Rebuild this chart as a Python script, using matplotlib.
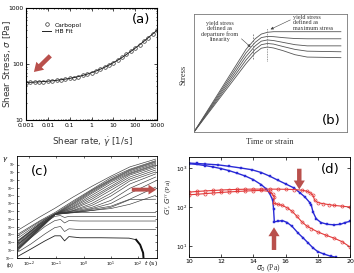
import numpy as np
import matplotlib
matplotlib.use("Agg")
import matplotlib.pyplot as plt

# ---- panel (a): Carbopol flow curve
rate = [1e-3, 1.58e-3, 2.51e-3, 3.98e-3, 6.31e-3, 1e-2, 1.58e-2, 2.51e-2, 3.98e-2, 6.31e-2,
        0.1, 0.158, 0.251, 0.398, 0.631, 1, 1.58, 2.51, 3.98, 6.31,
        10, 15.8, 25.1, 39.8, 63.1, 100, 158, 251, 398, 631, 1000]
stress = [46.5, 47.0, 47.4, 48.0, 48.6, 49.3, 50.1, 51.1, 52.3, 53.7,
          55.3, 57.3, 59.7, 62.5, 65.9, 70, 74.8, 80.6, 87.5, 95.7,
          105, 117, 131, 148, 168, 192, 220, 254, 295, 343, 400]
hb_fit = [46.8, 47.1, 47.5, 48.0, 48.6, 49.3, 50.1, 51.1, 52.3, 53.7,
          55.3, 57.3, 59.7, 62.5, 65.9, 70, 74.8, 80.6, 87.5, 95.7,
          105.5, 117, 131, 148, 168, 192, 220, 254, 295, 343, 400]
a_xticks = [1e-3, 1e-2, 1e-1, 1, 10, 100, 1000]
a_xlabels = ["0.001", "0.01", "0.1", "1", "10", "100", "1000"]
a_yticks = [10, 100, 1000]

# ---- panel (b): schematic stress vs time/strain
b_x = [0, 0.34, 0.40, 0.44, 0.48, 0.52, 0.58, 0.66, 0.74, 0.96]
b_curves = [
    [0, 0.70, 0.79, 0.83, 0.845, 0.85, 0.85, 0.85, 0.85, 0.85],
    [0, 0.67, 0.76, 0.80, 0.81, 0.808, 0.80, 0.792, 0.79, 0.79],
    [0, 0.64, 0.73, 0.77, 0.78, 0.775, 0.76, 0.74, 0.73, 0.73],
    [0, 0.61, 0.70, 0.74, 0.75, 0.745, 0.725, 0.70, 0.685, 0.68],
    [0, 0.58, 0.67, 0.71, 0.72, 0.712, 0.69, 0.655, 0.635, 0.63],
]

# ---- panel (c): creep curves, log10 t and log10 strain
c_t_up = [-2.4, -1.6, -1.05, -0.4, 0.3, 1.0, 1.7, 2.65]
c_up = [
    [-6.4, -4.7, -3.6, -2.2, -0.8, 0.5, 1.7, 2.7],
    [-6.9, -5.2, -4.15, -2.7, -1.2, 0.3, 1.4, 2.5],
    [-7.1, -5.3, -4.3, -2.85, -1.3, 0.1, 1.3, 2.4],
    [-7.4, -5.45, -4.35, -3.0, -1.4, 0.0, 1.2, 2.3],
    [-7.7, -5.6, -4.4, -3.1, -1.55, -0.1, 1.05, 2.15],
    [-7.8, -5.65, -4.4, -3.25, -1.7, -0.25, 0.9, 2.0],
    [-7.9, -5.7, -4.4, -3.4, -1.95, -0.5, 0.8, 1.9],
    [-8.05, -5.8, -4.4, -3.5, -2.2, -0.8, 0.65, 1.75],
    [-8.2, -5.85, -4.4, -3.65, -2.45, -1.0, 0.4, 1.55],
    [-8.3, -5.9, -4.4, -3.75, -2.7, -1.3, 0.15, 1.3],
    [-8.45, -5.95, -4.4, -3.9, -3.0, -1.7, -0.1, 1.05],
    [-8.55, -6.05, -4.4, -3.95, -3.25, -2.05, -0.5, 0.8],
    [-8.7, -6.1, -4.4, -4.0, -3.5, -2.6, -1.05, 0.4],
    [-8.7, -6.1, -4.4, -4.1, -3.65, -3.0, -1.7, -0.1],
    [-8.85, -6.15, -4.4, -4.15, -3.75, -3.35, -2.45, -0.9],
    [-8.85, -6.2, -4.4, -4.15, -3.9, -3.65, -3.1, -1.95],
    [-8.95, -6.3, -4.4, -4.2, -3.9, -3.5, -2.5, -2.45],
]
c_t_lo = [-2.4, -1.94, -1.42, -1.06, -0.85, -0.7, -0.54, -0.13, 0.64, 1.67, 2.65]
c_lo = [
    [-7.8, -6.5, -5.05, -4.3, -4.15, -4.2, -4.15, -4.15, -4.15, -4.15, -4.15],
    [-8.2, -6.9, -5.45, -4.65, -4.55, -4.8, -4.65, -4.65, -4.65, -4.65, -4.65],
    [-8.7, -7.4, -5.95, -5.2, -5.05, -5.5, -5.2, -5.25, -5.25, -5.25, -5.25],
    [-9.2, -8.2, -6.9, -6.1, -5.95, -6.6, -6.25, -6.35, -6.35, -6.35, -6.35],
]
c_t_fall = [-2.4, -1.94, -1.42, -1.06, -0.85, -0.7, -0.54, -0.13, 0.64, 1.67, 1.93, 2.08, 2.19, 2.21]
c_fall = [-9.75, -8.85, -7.8, -7.15, -7.15, -7.8, -7.25, -7.4, -7.4, -7.45, -7.65, -8.3, -9.35, -10.3]
c_xtick_exp = [-2, -1, 0, 1, 2]
c_ytick_exp = [-10, -9, -8, -7, -6, -5, -4, -3, -2, -1, 0, 1, 2]

# ---- panel (d): G', G'' vs sigma0
blue1_x = [10, 10.5, 11, 11.8, 12.5, 13.2, 13.9, 14.5, 15, 15.5, 16, 16.5, 16.9, 17.2,
           17.5, 17.6, 17.7, 17.9, 18.2, 18.6, 19, 19.4, 19.7, 20]
blue1_y = [1330, 1300, 1260, 1200, 1100, 1000, 900, 760, 620, 490, 390, 310, 230, 180,
           130, 110, 75, 50, 40, 36, 35, 36, 40, 43]
blue2_x = [10, 10.5, 11, 11.5, 12, 12.5, 13, 13.5, 14, 14.5, 14.8, 15, 15.2, 15.25, 15.3,
           15.5, 15.8, 16.1, 16.4, 16.8, 17.1, 17.4, 17.7, 18, 18.4, 18.8, 19.1]
blue2_y = [1280, 1230, 1150, 1060, 960, 850, 730, 620, 500, 370, 290, 225, 150, 90, 42,
           43, 45, 40, 32, 21, 16, 12, 9, 7.2, 6.2, 5.5, 5.2]
red1_x = [10, 10.5, 11, 11.5, 12, 12.5, 13, 13.5, 14, 14.5, 15, 15.5, 16, 16.5, 17, 17.3,
          17.5, 17.7, 17.8, 18, 18.3, 18.7, 19, 19.5, 20]
red1_y = [240, 250, 258, 265, 272, 278, 282, 285, 287, 287, 287, 286, 284, 280, 270, 255,
          235, 200, 150, 130, 122, 115, 110, 105, 100]
red2_x = [10, 10.5, 11, 11.5, 12, 12.5, 13, 13.5, 14, 14.5, 15, 15.2, 15.3, 15.25, 15.5,
          15.8, 16.1, 16.4, 16.7, 17, 17.3, 17.6, 18, 18.5, 19, 19.5, 20]
red2_y = [205, 212, 220, 228, 236, 243, 250, 256, 262, 265, 250, 210, 180, 125, 118,
          110, 95, 78, 58, 42, 33, 28, 23, 19, 16, 13, 9.5]
d_xticks = [10, 12, 14, 16, 18, 20]
d_yticks = [10, 100, 1000]
d_ylabels = ["$10^1$", "$10^2$", "$10^3$"]

W, H = 354, 273


def box(l, t, r, b):
    return [l / W, 1 - b / H, (r - l) / W, (b - t) / H]


fig = plt.figure(figsize=(3.54, 2.73), dpi=100)
arrow_red = "#b9504c"
fat_arrow = "simple,head_length=0.8,head_width=1.0,tail_width=0.4"

# (a)
ax = fig.add_axes(box(26, 8, 157, 120))
ax.set_xscale("log")
ax.set_yscale("log")
ax.plot(rate, stress, "o", mfc="none", mec="#333333", ms=2.6, mew=0.5, label="Carbopol")
ax.plot(rate, hb_fit, "-", color="#222222", lw=0.7, label="HB Fit")
ax.set_xlim(1e-3, 1e3)
ax.set_ylim(10, 1000)
ax.set_xticks(a_xticks)
ax.set_xticklabels(a_xlabels)
ax.set_yticks(a_yticks)
ax.set_yticklabels([str(v) for v in a_yticks])
ax.tick_params(which="both", direction="in", top=True, right=True, labelsize=4.3,
               length=2, width=0.5, pad=2)
ax.tick_params(which="minor", length=1)
for s in ax.spines.values():
    s.set_linewidth(0.8)
ax.legend(loc="upper left", bbox_to_anchor=(0.08, 0.92), frameon=False, fontsize=4.3,
          handlelength=1.6, handletextpad=0.6, labelspacing=0.3)
ax.text(0.88, 0.9, "(a)", transform=ax.transAxes, fontsize=9.5, ha="center", va="center")
ax.annotate("", xy=(2.3e-3, 72), xytext=(1.3e-2, 140),
            arrowprops=dict(arrowstyle=fat_arrow, color=arrow_red, lw=0,
                            mutation_scale=8, shrinkA=0, shrinkB=0))
fig.text(7 / W, 1 - 64 / H, "Shear Stress, $\\sigma$ [Pa]", rotation=90, fontsize=6.3,
         ha="center", va="center", color="#333333")
fig.text(92 / W, 1 - 142 / H, "Shear rate, $\\dot{\\gamma}$ [1/s]", fontsize=6.3,
         ha="center", va="center", color="#333333")

# (b)
bx = fig.add_axes(box(194, 14, 347, 132))
for ys in b_curves:
    bx.plot(b_x, ys, color="#555555", lw=0.6)
bx.plot([0.385, 0.385], [0.62, 0.84], color="#777777", lw=0.6, ls=(0, (2, 1.5)))
bx.plot([0.48, 0.48], [0.60, 0.88], color="#777777", lw=0.6, ls=(0, (1, 1)))
bx.set_xlim(0, 1)
bx.set_ylim(0, 1)
bx.set_xticks([])
bx.set_yticks([])
for s in bx.spines.values():
    s.set_linewidth(0.6)
    s.set_color("#777777")
bx.text(0.17, 0.85, "yield stress\ndefined as\ndeparture from\nlinearity", fontsize=4.4,
        family="Liberation Serif", ha="center", va="center", linespacing=1.05, color="#333333")
bx.text(0.65, 0.925, "yield stress\ndefined as\nmaximum stress", fontsize=4.4,
        family="Liberation Serif", ha="left", va="center", linespacing=1.05, color="#333333")
bx.annotate("", xy=(0.37, 0.72), xytext=(0.31, 0.79),
            arrowprops=dict(arrowstyle="-|>", color="#444444", lw=0.4, mutation_scale=4,
                            shrinkA=0, shrinkB=0))
bx.annotate("", xy=(0.50, 0.87), xytext=(0.63, 0.95),
            arrowprops=dict(arrowstyle="-|>", color="#444444", lw=0.4, mutation_scale=4,
                            shrinkA=0, shrinkB=0))
bx.text(0.9, 0.1, "(b)", transform=bx.transAxes, fontsize=9.5, ha="center", va="center")
fig.text(184 / W, 1 - 75 / H, "Stress", rotation=90, fontsize=6, family="Liberation Serif",
         ha="center", va="center", color="#333333")
fig.text(270 / W, 1 - 142 / H, "Time or strain", fontsize=6, family="Liberation Serif",
         ha="center", va="center", color="#333333")

# (c)
cx = fig.add_axes(box(17, 156, 157, 258))
cx.set_xscale("log")
cx.set_yscale("log")
tu = [10.0 ** v for v in c_t_up]
for ys in c_up:
    cx.plot(tu, [10.0 ** v for v in ys], color="#3a3a3a", lw=0.45)
tl = [10.0 ** v for v in c_t_lo]
for ys in c_lo:
    cx.plot(tl, [10.0 ** v for v in ys], color="#3a3a3a", lw=0.45)
cx.plot([10.0 ** v for v in c_t_fall], [10.0 ** v for v in c_fall], color="#222222", lw=0.6)
cx.plot([10.0 ** v for v in c_t_fall[-4:]], [10.0 ** v for v in c_fall[-4:]],
        color="#111111", lw=1.4)
cx.set_xlim(10 ** -2.45, 10 ** 2.7)
cx.set_ylim(1e-10, 10 ** 3.1)
cx.set_xticks([10.0 ** k for k in c_xtick_exp])
cx.set_xticklabels(["$10^{%d}$" % k for k in c_xtick_exp])
cx.set_yticks([10.0 ** k for k in c_ytick_exp])
cx.set_yticklabels(["$10^{%d}$" % k for k in c_ytick_exp])
cx.minorticks_off()
cx.tick_params(axis="x", labelsize=3.2)
cx.tick_params(axis="y", labelsize=2.2)
cx.tick_params(direction="in", top=True, right=True, length=1.5, width=0.4, pad=1)
for s in cx.spines.values():
    s.set_linewidth(0.6)
cx.text(0.1, 0.85, "(c)", transform=cx.transAxes, fontsize=9.5, ha="left", va="center")
cx.annotate("", xy=(0.995, 0.67), xytext=(0.82, 0.67), xycoords="axes fraction",
            arrowprops=dict(arrowstyle=fat_arrow, color=arrow_red, lw=0,
                            mutation_scale=7, shrinkA=0, shrinkB=0))
fig.text(5 / W, 1 - 160 / H, "$\\gamma$", fontsize=5, ha="center", va="center")
fig.text(10 / W, 1 - 266 / H, "(b)", fontsize=3.5, ha="center", va="center")
fig.text(151 / W, 1 - 264 / H, "$t$ (s)", fontsize=4.5, ha="center", va="center")

# (d)
dx = fig.add_axes(box(189, 157, 350, 257))
dx.set_yscale("log")
dx.plot(blue1_x, blue1_y, "-s", color="#2a2ad6", ms=1.6, lw=1.0, mew=0.3)
dx.plot(blue2_x, blue2_y, "-s", color="#2a2ad6", ms=1.6, lw=1.0, mew=0.3)
dx.plot(red1_x, red1_y, "-o", color="#e23a3a", mfc="none", ms=2.2, lw=0.8, mew=0.5)
dx.plot(red2_x, red2_y, "-o", color="#e23a3a", mfc="none", ms=2.2, lw=0.8, mew=0.5)
dx.set_xlim(10, 20)
dx.set_ylim(10 ** 0.72, 10 ** 3.28)
dx.set_xticks(d_xticks)
dx.set_yticks(d_yticks)
dx.set_yticklabels(d_ylabels)
dx.minorticks_off()
dx.tick_params(direction="in", top=True, right=True, labelsize=4.5, length=2,
               width=0.5, pad=1.5)
dx.tick_params(axis="y", labelsize=4.1, pad=1)
for s in dx.spines.values():
    s.set_linewidth(0.6)
dx.text(0.88, 0.88, "(d)", transform=dx.transAxes, fontsize=9.5, ha="center", va="center")
dx.annotate("", xy=(16.85, 10 ** 2.45), xytext=(16.85, 10 ** 2.98),
            arrowprops=dict(arrowstyle=fat_arrow, color=arrow_red, lw=0,
                            mutation_scale=8, shrinkA=0, shrinkB=0))
dx.annotate("", xy=(15.28, 10 ** 1.48), xytext=(15.28, 10 ** 0.9),
            arrowprops=dict(arrowstyle=fat_arrow, color=arrow_red, lw=0,
                            mutation_scale=8, shrinkA=0, shrinkB=0))
fig.text(169 / W, 1 - 197 / H, "$G'$, $G''$ (Pa)", rotation=90, fontsize=5.3,
         family="Liberation Serif", ha="center", va="center", color="#333333")
fig.text(268 / W, 1 - 268.5 / H, "$\\sigma_0$ (Pa)", fontsize=5.5, family="Liberation Serif",
         ha="center", va="center", color="#333333")

fig.savefig("out.png", dpi=100)
